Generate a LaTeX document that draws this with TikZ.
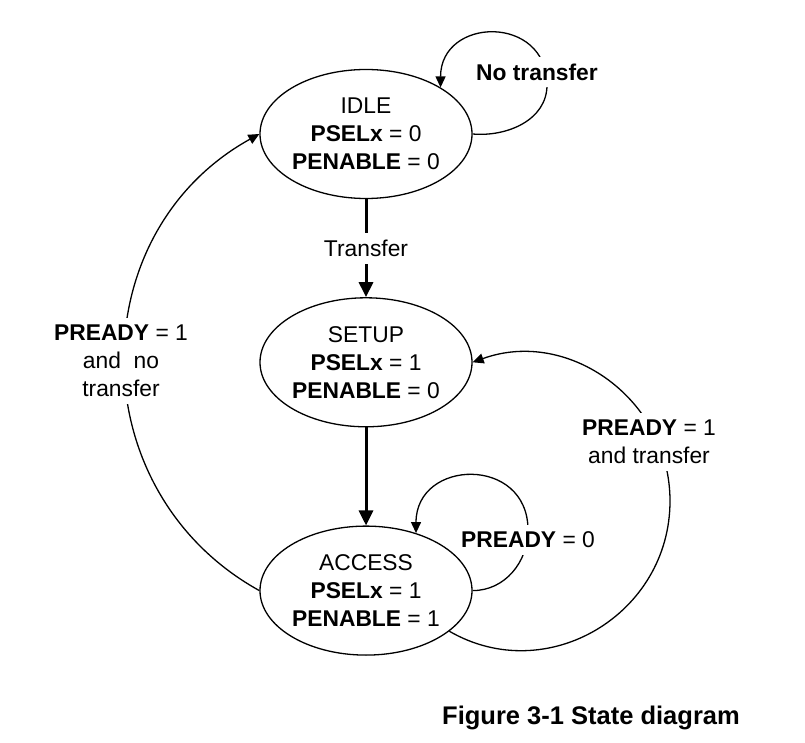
\documentclass[tikz,border=0pt]{standalone}
\usepackage{fontspec}
\setmainfont{Liberation Sans}
\usetikzlibrary{arrows.meta,positioning,shapes.geometric}
\tikzset{
	stato/.style={draw, ellipse, line width=1.3pt, minimum width=212pt, minimum height=129pt, inner sep=0pt, align=center, font=\fontsize{22.8}{28}\selectfont},
	freccia/.style={line width=1.3pt, -{Triangle[length=11pt,width=10pt]}},
	frecciaspessa/.style={line width=3pt, -{Triangle[length=15pt,width=14pt]}},
	etichetta/.style={fill=white, align=center, inner xsep=2pt, inner ysep=7pt, font=\fontsize{22.8}{28}\selectfont}
}
\begin{document}
\begin{tikzpicture}[x=1pt,y=1pt]
		\useasboundingbox (0,0) rectangle (805,742);
		% stati
		\node[stato] (IDLE) at (366,608) {IDLE\\\textbf{PSELx} = 0\\\textbf{PENABLE} = 0};
		\node[stato, below=98pt of IDLE] (SETUP) {SETUP\\\textbf{PSELx} = 1\\\textbf{PENABLE} = 0};
		\node[stato, below=98pt of SETUP] (ACCESS) {ACCESS\\\textbf{PSELx} = 1\\\textbf{PENABLE} = 1};
		
		% transizioni dritte
		\draw[frecciaspessa] (IDLE) -- node[etichetta] (transfer) {Transfer} (SETUP);
		\draw[frecciaspessa] (SETUP) -- (ACCESS);
		
		% anelli
		\coordinate (idlegiro) at (547,657);
		\draw[freccia] (IDLE.east) to[out=-5,in=-90] (idlegiro) to[out=90,in=90,looseness=1.7] (IDLE.32);
		\node[etichetta] (notransfer) at (537,670) {\textbf{No transfer}};
		
		\coordinate (accessgiro) at (528,212);
		\draw[freccia] (ACCESS.east) to[out=0,in=-90] (accessgiro) to[out=90,in=90,looseness=1.7] (ACCESS.49);
		\node[etichetta] (readyzero) at (528,202) {\textbf{PREADY} = 0};
		
		% archi grandi
		\coordinate (readydestra) at (670,241);
		\draw[freccia] (ACCESS.-26) to[out=-30,in=-90,looseness=1.13] (readydestra) to[out=90,in=20,looseness=1.08] (SETUP.east);
		\node[etichetta] (readytransfer) at (649,300) {\textbf{PREADY} = 1\\and transfer};
		
		\draw[freccia] (ACCESS.west) to[bend left=61,looseness=1.15] (IDLE.west);
		\node[etichetta] (readynotransfer) at (121,381) {\textbf{PREADY} = 1\\and\ \ no\\transfer};
		
		% didascalia
		\node[font=\fontsize{25.5}{30}\selectfont\bfseries] (didascalia) at (591,24) {Figure 3-1 State diagram};
\end{tikzpicture}
\end{document}
